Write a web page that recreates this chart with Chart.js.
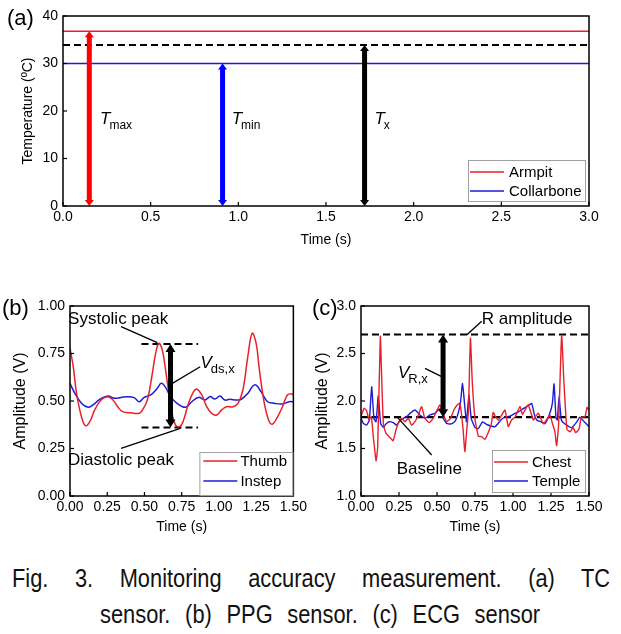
<!DOCTYPE html>
<html><head><meta charset="utf-8">
<script src="https://cdn.jsdelivr.net/npm/chart.js@4.4.0/dist/chart.umd.min.js"></script>
<style>
html,body{margin:0;padding:0;background:#fff;width:621px;height:634px;overflow:hidden;position:relative;}
canvas{position:absolute;}
.cap{position:absolute;font-family:'Liberation Sans',Arial,sans-serif;font-size:26px;line-height:26px;color:#111;transform-origin:0 0;transform:scaleX(0.84);text-align:justify;text-align-last:justify;}
</style></head><body>
<canvas id="ca" width="621" height="255" style="left:0;top:0;width:621px;height:255px"></canvas>
<canvas id="cb" width="310" height="250" style="left:0;top:290px;width:310px;height:250px"></canvas>
<canvas id="cc" width="311" height="250" style="left:310px;top:290px;width:311px;height:250px"></canvas>
<div class="cap" style="left:12px;top:565px;width:712px">Fig. 3. Monitoring accuracy measurement. (a) TC</div>
<div class="cap" style="left:100px;top:601px;width:524px">sensor. (b) PPG sensor. (c) ECG sensor</div>
<script>
// ---------- (a) TC sensor ----------
const tempTime = [0, 3];
const armpitTemp = [36.8, 36.8];
const collarboneTemp = [30.0, 30.0];
const txTemp = [33.9, 33.9];
const tempArrowTime = [0.15, 0.91, 1.72];
const tempArrowTop = [36.8, 30.0, 33.9];
const tempTicksX = [0, 0.5, 1.0, 1.5, 2.0, 2.5, 3.0];
const tempTicksY = [0, 10, 20, 30, 40];

// ---------- (b) PPG sensor ----------
const thumbT = [0,0.022,0.044,0.077,0.104,0.133,0.166,0.21,0.254,0.287,0.32,0.354,0.409,0.465,0.487,0.52,0.553,0.575,0.597,0.62,0.642,0.664,0.686,0.708,0.737,0.763,0.796,0.83,0.852,0.885,0.918,0.951,0.985,1.018,1.051,1.095,1.128,1.161,1.194,1.223,1.25,1.272,1.305,1.338,1.36,1.394,1.427,1.46,1.493,1.5];
const thumbV = [0.777,0.68,0.54,0.417,0.37,0.391,0.453,0.507,0.523,0.507,0.47,0.444,0.438,0.435,0.453,0.507,0.646,0.751,0.804,0.768,0.663,0.54,0.435,0.374,0.365,0.4,0.488,0.549,0.562,0.532,0.47,0.435,0.426,0.453,0.47,0.47,0.488,0.558,0.733,0.856,0.803,0.663,0.488,0.391,0.378,0.417,0.47,0.532,0.537,0.53];
const instepT = [0,0.033,0.077,0.122,0.155,0.199,0.254,0.299,0.343,0.387,0.431,0.465,0.498,0.542,0.586,0.613,0.642,0.675,0.719,0.774,0.818,0.863,0.907,0.94,0.973,1.007,1.04,1.073,1.117,1.15,1.194,1.228,1.25,1.283,1.327,1.371,1.427,1.471,1.5];
const instepV = [0.593,0.54,0.488,0.467,0.479,0.509,0.526,0.514,0.519,0.523,0.518,0.496,0.519,0.532,0.567,0.593,0.572,0.523,0.488,0.467,0.496,0.519,0.505,0.523,0.51,0.526,0.505,0.509,0.505,0.509,0.54,0.579,0.584,0.549,0.496,0.488,0.484,0.496,0.496];
const ppgPeakLevels = [0.80, 0.36];     // systolic, diastolic
const ppgLevelSpan = [0.48, 0.86];
const ppgArrowTime = 0.675;
const ppgTicksX = [0, 0.25, 0.5, 0.75, 1.0, 1.25, 1.5];
const ppgTicksY = [0, 0.25, 0.5, 0.75, 1.0];

// ---------- (c) ECG sensor ----------
const chestT = [0,0.02,0.037,0.053,0.068,0.081,0.099,0.11,0.127,0.137,0.147,0.164,0.18,0.195,0.212,0.23,0.247,0.267,0.289,0.311,0.333,0.355,0.377,0.399,0.42,0.449,0.475,0.501,0.519,0.541,0.563,0.589,0.611,0.633,0.65,0.661,0.672,0.683,0.694,0.707,0.72,0.732,0.75,0.772,0.793,0.815,0.838,0.858,0.87,0.885,0.904,0.925,0.947,0.969,0.99,1.013,1.046,1.062,1.079,1.1,1.134,1.15,1.167,1.2,1.22,1.243,1.26,1.275,1.287,1.3,1.32,1.335,1.355,1.377,1.395,1.412,1.434,1.45,1.474,1.487,1.5];
const chestV = [1.835,1.923,1.898,1.8,1.835,1.625,1.372,1.52,2.68,2.2,1.765,1.66,1.632,1.607,1.582,1.695,1.772,1.818,1.782,1.818,1.747,1.782,1.853,1.94,1.818,1.772,1.818,1.905,1.958,1.863,1.782,1.818,1.905,1.958,1.975,1.863,1.695,1.467,1.66,1.905,2.66,2.2,1.81,1.63,1.625,1.596,1.67,1.765,1.88,1.835,1.8,1.85,1.905,1.73,1.8,1.83,1.94,1.86,1.905,1.96,1.8,1.84,1.87,1.76,1.8,1.85,1.76,1.68,1.53,1.75,2.69,2.2,1.7,1.677,1.723,1.667,1.702,1.83,1.835,1.933,1.9];
const templeT = [0,0.015,0.037,0.055,0.07,0.085,0.099,0.114,0.129,0.147,0.164,0.186,0.212,0.234,0.256,0.278,0.3,0.322,0.355,0.388,0.42,0.453,0.486,0.508,0.53,0.541,0.563,0.589,0.617,0.639,0.655,0.668,0.681,0.694,0.71,0.725,0.75,0.772,0.8,0.83,0.882,0.92,0.947,0.98,1.013,1.04,1.068,1.1,1.123,1.14,1.156,1.185,1.21,1.24,1.259,1.27,1.283,1.292,1.303,1.318,1.34,1.386,1.42,1.44,1.47,1.5];
const templeV = [1.818,1.765,1.747,1.8,2.151,1.818,1.782,2.053,1.765,1.723,1.758,1.782,1.772,1.747,1.793,1.818,1.835,1.87,1.905,1.853,1.818,1.853,1.87,1.905,1.923,1.818,1.765,1.758,1.782,1.87,1.993,2.186,1.975,1.782,2.06,1.818,1.72,1.71,1.78,1.75,1.73,1.8,1.83,1.84,1.87,1.89,1.92,1.95,1.975,1.86,1.8,1.78,1.76,1.86,1.975,2.18,1.82,1.8,2.05,1.8,1.76,1.72,1.78,1.83,1.78,1.73];
const ecgLevels = [2.70, 1.83];   // R amplitude, baseline
const ecgArrowTime = 0.54;
const ecgTicksX = [0, 0.25, 0.5, 0.75, 1.0, 1.25, 1.5];
const ecgTicksY = [1.0, 1.5, 2.0, 2.5, 3.0];

// ---------- helpers ----------
const FONT = "'Liberation Sans', Arial, sans-serif";
const RED = '#e8202a', BLUE = '#1c1cd8';
const pts = (xs, ys) => xs.map((x, i) => ({x, y: ys[i]}));

function axis(o) {
  return {
    type: 'linear', min: o.min, max: o.max,
    afterBuildTicks: s => { s.ticks = o.ticks.map(v => ({value: v})); },
    ticks: {font: {family: FONT, size: 14}, color: '#000', padding: o.pad, maxRotation: 0, autoSkip: false,
            callback: v => Number(v).toFixed(o.dec)},
    grid: {display: false, drawTicks: false},
    border: {display: false},
    title: {display: true, text: o.title, font: {family: FONT, size: o.ts || 14}, color: '#000', padding: o.tpad},
    afterFit: s => { if (o.w !== undefined) s.width = o.w; if (o.h !== undefined) s.height = o.h; }
  };
}

function lineDs(label, data, color, width, tension, dash) {
  return {label, data, borderColor: color, backgroundColor: color, borderWidth: width, pointRadius: 0,
          tension: tension || 0, borderDash: dash || [], fill: false};
}

function drawArrow(ctx, x, yA, yB, color, w, hw, hl) {
  const top = Math.min(yA, yB), bot = Math.max(yA, yB);
  ctx.save();
  ctx.strokeStyle = color; ctx.fillStyle = color; ctx.lineWidth = w; ctx.lineCap = 'butt';
  ctx.beginPath(); ctx.moveTo(x, top + hl - 0.5); ctx.lineTo(x, bot - hl + 0.5); ctx.stroke();
  ctx.beginPath(); ctx.moveTo(x, top); ctx.lineTo(x - hw / 2, top + hl); ctx.lineTo(x + hw / 2, top + hl); ctx.closePath(); ctx.fill();
  ctx.beginPath(); ctx.moveTo(x, bot); ctx.lineTo(x - hw / 2, bot - hl); ctx.lineTo(x + hw / 2, bot - hl); ctx.closePath(); ctx.fill();
  ctx.restore();
}

function sym(ctx, x, y, main, sub, size, subSize) {
  ctx.save();
  ctx.fillStyle = '#000'; ctx.textAlign = 'left'; ctx.textBaseline = 'alphabetic';
  ctx.font = `italic ${size}px ${FONT}`;
  ctx.fillText(main, x, y);
  const w = ctx.measureText(main).width;
  ctx.font = `${subSize}px ${FONT}`;
  ctx.fillText(sub, x + w - 1, y + 5);
  ctx.restore();
}

function text(ctx, s, x, y, size) {
  ctx.save();
  ctx.fillStyle = '#000'; ctx.textAlign = 'left'; ctx.textBaseline = 'alphabetic';
  ctx.font = `${size}px ${FONT}`;
  ctx.fillText(s, x, y);
  ctx.restore();
}

function seg(ctx, x1, y1, x2, y2) {
  ctx.save(); ctx.strokeStyle = '#000'; ctx.lineWidth = 1.3;
  ctx.beginPath(); ctx.moveTo(x1, y1); ctx.lineTo(x2, y2); ctx.stroke(); ctx.restore();
}

function legend(ctx, l, t, w, h, rows, lineL, lineR, textX) {
  ctx.save();
  ctx.fillStyle = '#fff'; ctx.fillRect(l, t, w, h);
  ctx.strokeStyle = '#a0a0a0'; ctx.lineWidth = 1; ctx.strokeRect(l + 0.5, t + 0.5, w, h);
  rows.forEach(r => {
    ctx.strokeStyle = r.color; ctx.lineWidth = 1.5;
    ctx.beginPath(); ctx.moveTo(l + lineL, r.y); ctx.lineTo(l + lineR, r.y); ctx.stroke();
    ctx.fillStyle = '#000'; ctx.font = `15px ${FONT}`; ctx.textBaseline = 'middle'; ctx.textAlign = 'left';
    ctx.fillText(r.label, l + textX, r.y + 1);
  });
  ctx.restore();
}

function framePlugin(panel, px, py, legendFn) {
  return {
    id: 'frame' + panel,
    afterDraw(chart) {
      const {ctx, chartArea: a, scales: {x, y}} = chart;
      ctx.save();
      ctx.strokeStyle = '#000'; ctx.lineWidth = 1.2;
      x.ticks.forEach(t => { const p = x.getPixelForValue(t.value); ctx.beginPath(); ctx.moveTo(p, a.bottom); ctx.lineTo(p, a.bottom - 4); ctx.stroke(); });
      y.ticks.forEach(t => { const p = y.getPixelForValue(t.value); ctx.beginPath(); ctx.moveTo(a.left, p); ctx.lineTo(a.left + 4, p); ctx.stroke(); });
      ctx.lineWidth = 1.5;
      ctx.strokeRect(a.left, a.top, a.right - a.left, a.bottom - a.top);
      ctx.restore();
      if (legendFn) legendFn(ctx, a, chart);
      ctx.save();
      ctx.fillStyle = '#000'; ctx.font = `22px ${FONT}`; ctx.textBaseline = 'alphabetic'; ctx.textAlign = 'left';
      ctx.fillText(panel, px, py);
      ctx.restore();
    }
  };
}

const common = {responsive: false, animation: false, devicePixelRatio: 1,
  plugins: {legend: {display: false}, tooltip: {enabled: false}}};

// ---------- chart (a) ----------
new Chart(document.getElementById('ca'), {
  type: 'line',
  data: {datasets: [
    lineDs('Armpit', pts(tempTime, armpitTemp), RED, 1.5),
    lineDs('Collarbone', pts(tempTime, collarboneTemp), BLUE, 1.5),
    lineDs('Tx', pts(tempTime, txTemp), '#000', 2, 0, [7, 4])
  ]},
  options: Object.assign({}, common, {
    layout: {padding: {top: 16, right: 32, left: 0, bottom: 0}},
    scales: {
      x: axis({min: 0, max: 3, ticks: tempTicksX, dec: 1, pad: 3, title: 'Time (s)', tpad: {top: 0, bottom: 6}, h: 49}),
      y: axis({min: 0, max: 40, ticks: tempTicksY, dec: 0, pad: 5, title: 'Temperature (ºC)', tpad: {top: 20, bottom: 0}, w: 63})
    }
  }),
  plugins: [{
    id: 'annoA',
    afterDatasetsDraw(chart) {
      const {ctx, scales: {x, y}} = chart;
      const cols = ['#ff0000', '#0000ff', '#000000'];
      tempArrowTime.forEach((t, i) => drawArrow(ctx, x.getPixelForValue(t), y.getPixelForValue(0), y.getPixelForValue(tempArrowTop[i]), cols[i], 5, 9, 6));
      const yb = y.getPixelForValue(17.3);
      sym(ctx, x.getPixelForValue(0.211), yb, 'T', 'max', 17, 12);
      sym(ctx, x.getPixelForValue(0.962), yb, 'T', 'min', 17, 12);
      sym(ctx, x.getPixelForValue(1.776), yb, 'T', 'x', 17, 12);
    }
  }, framePlugin('(a)', 7, 25, (ctx, a) => {
    const l = a.right - 121, t = a.bottom - 46;
    legend(ctx, l, t, 117, 41, [{label: 'Armpit', color: RED, y: a.bottom - 34}, {label: 'Collarbone', color: BLUE, y: a.bottom - 15}], 2, 36, 41);
  })]
});

// ---------- chart (b) ----------
new Chart(document.getElementById('cb'), {
  type: 'line',
  data: {datasets: [
    lineDs('Thumb', pts(thumbT, thumbV), RED, 1.5, 0.4),
    lineDs('Instep', pts(instepT, instepV), BLUE, 1.5, 0.4),
    lineDs('Systolic', pts(ppgLevelSpan, [ppgPeakLevels[0], ppgPeakLevels[0]]), '#000', 2, 0, [7, 4]),
    lineDs('Diastolic', pts(ppgLevelSpan, [ppgPeakLevels[1], ppgPeakLevels[1]]), '#000', 2, 0, [7, 4])
  ]},
  options: Object.assign({}, common, {
    layout: {padding: {top: 16, right: 14, left: 0, bottom: 0}},
    scales: {
      x: axis({min: 0, max: 1.5, ticks: ppgTicksX, dec: 2, pad: 3, title: 'Time (s)', tpad: {top: 0, bottom: 4}, h: 44}),
      y: axis({min: 0, max: 1.0, ticks: ppgTicksY, dec: 2, pad: 5, title: 'Amplitude (V)', ts: 16, tpad: {top: 11, bottom: 0}, w: 70})
    }
  }),
  plugins: [{
    id: 'annoB',
    afterDatasetsDraw(chart) {
      const {ctx, scales: {x, y}} = chart;
      const X = v => x.getPixelForValue(v), Y = v => y.getPixelForValue(v);
      drawArrow(ctx, X(ppgArrowTime), Y(ppgPeakLevels[1]), Y(ppgPeakLevels[0]), '#000', 5, 10, 8);
      seg(ctx, X(0.343), Y(0.891), X(0.586), Y(0.807));
      seg(ctx, X(0.343), Y(0.251), X(0.741), Y(0.356));
      seg(ctx, X(0.874), Y(0.68), X(0.679), Y(0.589));
      text(ctx, 'Systolic peak', X(-0.013), Y(0.905), 17);
      text(ctx, 'Diastolic peak', X(-0.013), Y(0.161), 17);
      sym(ctx, X(0.876), Y(0.674), 'V', 'ds,x', 17, 13);
    }
  }, framePlugin('(b)', 2, 25, (ctx, a) => {
    const l = a.right - 94, t = a.bottom - 44;
    legend(ctx, l, t, 93, 43, [{label: 'Thumb', color: RED, y: a.bottom - 35}, {label: 'Instep', color: BLUE, y: a.bottom - 15}], 4, 38, 41);
  })]
});

// ---------- chart (c) ----------
new Chart(document.getElementById('cc'), {
  type: 'line',
  data: {datasets: [
    lineDs('Chest', pts(chestT, chestV), RED, 1.4, 0.15),
    lineDs('Temple', pts(templeT, templeV), BLUE, 1.4, 0.15),
    lineDs('R amplitude', pts([0, 1.5], [ecgLevels[0], ecgLevels[0]]), '#000', 2.2, 0, [7, 4]),
    lineDs('Baseline', pts([0, 1.5], [ecgLevels[1], ecgLevels[1]]), '#000', 2.2, 0, [7, 4])
  ]},
  options: Object.assign({}, common, {
    layout: {padding: {top: 16, right: 32, left: 0, bottom: 0}},
    scales: {
      x: axis({min: 0, max: 1.5, ticks: ecgTicksX, dec: 2, pad: 3, title: 'Time (s)', tpad: {top: 0, bottom: 4}, h: 44}),
      y: axis({min: 1.0, max: 3.0, ticks: ecgTicksY, dec: 1, pad: 5, title: 'Amplitude (V)', ts: 16, tpad: {top: 3, bottom: 0}, w: 51})
    }
  }),
  plugins: [{
    id: 'annoC',
    afterDatasetsDraw(chart) {
      const {ctx, scales: {x, y}} = chart;
      const X = v => x.getPixelForValue(v), Y = v => y.getPixelForValue(v);
      drawArrow(ctx, X(ecgArrowTime), Y(ecgLevels[1]), Y(ecgLevels[0]), '#000', 5, 10, 8);
      seg(ctx, X(0.794), Y(2.84), X(0.695), Y(2.695));
      seg(ctx, X(0.421), Y(2.344), X(0.531), Y(2.256));
      seg(ctx, X(0.465), Y(1.432), X(0.235), Y(1.835));
      text(ctx, 'R amplitude', X(0.794), Y(2.81), 17);
      text(ctx, 'Baseline', X(0.235), Y(1.232), 17);
      sym(ctx, X(0.243), Y(2.242), 'V', 'R,x', 17, 13);
    }
  }, framePlugin('(c)', 2, 25, (ctx, a) => {
    const l = a.right - 97, t = a.bottom - 46;
    legend(ctx, l, t, 93, 42, [{label: 'Chest', color: RED, y: a.bottom - 34}, {label: 'Temple', color: BLUE, y: a.bottom - 15}], 2, 36, 40);
  })]
});
</script>
</body></html>
